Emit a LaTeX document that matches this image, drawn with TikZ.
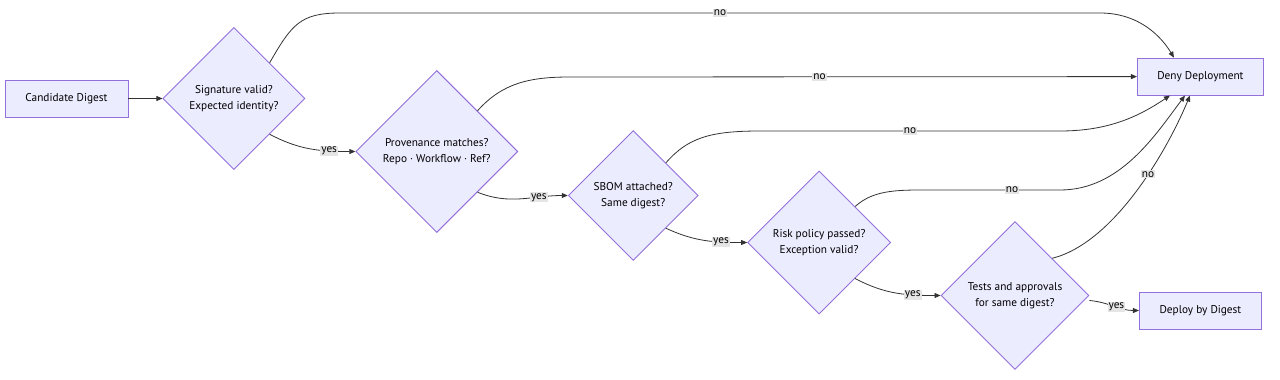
\documentclass[tikz,border=0pt]{standalone}
\usepackage{fontspec}
\setmainfont{PT Sans}
\usepackage{tikz}
\usetikzlibrary{shapes.geometric, arrows.meta, positioning, calc}
\definecolor{mmfill}{HTML}{ECECFF}
\definecolor{mmborde}{HTML}{9370DB}
\definecolor{mmlinea}{HTML}{333333}
\tikzset{
  paso/.style={rectangle, draw=mmborde, fill=mmfill, line width=0.9pt,
    minimum height=37pt, align=center, font=\fontsize{11.3}{16}\selectfont},
  pregunta/.style={diamond, aspect=1, draw=mmborde, fill=mmfill, line width=0.9pt,
    inner sep=0pt, align=center, font=\fontsize{11.3}{16}\selectfont},
  conector/.style={-{Triangle[length=6pt,width=5pt]}, line width=0.8pt, color=mmlinea},
  rotulo/.style={fill=black!10, inner sep=1pt, text=black,
    font=\fontsize{11.3}{13}\selectfont}
}
\begin{document}
\begin{tikzpicture}
  \useasboundingbox (0,0) rectangle (1280pt,-380pt);
  % entrada
  \node[paso, minimum width=123pt] (cand) at (66.5pt,-98.5pt) {Candidate Digest};
  % cadena de comprobaciones
  \node[pregunta, minimum size=142pt, right=34pt of cand] (sig)
    {Signature valid?\\Expected identity?};
  \node[pregunta, minimum size=162pt, right=50pt of sig, yshift=-53pt] (prov)
    {Provenance matches?\\Repo · Workflow · Ref?};
  \node[pregunta, minimum size=130pt, right=49.5pt of prov, yshift=-44pt] (sbom)
    {SBOM attached?\\Same digest?};
  \node[pregunta, minimum size=143pt, right=48.5pt of sbom, yshift=-47pt] (risk)
    {Risk policy passed?\\Exception valid?};
  \node[pregunta, minimum size=148pt, right=49.5pt of risk, yshift=-53pt] (tests)
    {Tests and approvals\\for same digest?};
  % salidas
  \node[paso, minimum width=122pt, right=49.5pt of tests, yshift=-15pt] (deploy)
    {Deploy by Digest};
  \node[paso, minimum width=126pt, above=196pt of deploy] (deny)
    {Deny Deployment};
  % camino del si
  \draw[conector] (cand) -- (sig);
  \draw[conector] (sig.south east) to[out=-28,in=180]
    node[rotulo, pos=0.72]{yes} (prov.west);
  \draw[conector] (prov.south east) to[out=-22,in=180]
    node[rotulo, pos=0.7]{yes} (sbom.west);
  \draw[conector] (sbom.south east) to[out=-25,in=180]
    node[rotulo, pos=0.7]{yes} (risk.west);
  \draw[conector] (risk.south east) to[out=-28,in=180]
    node[rotulo, pos=0.7]{yes} (tests.west);
  \draw[conector] ([yshift=-5pt]tests.east) to[out=-5,in=180]
    node[rotulo, pos=0.55]{yes} (deploy.west);
  % rechazos
  \draw[conector] (sig.north east) .. controls +(22pt,38pt) and +(-40pt,0) .. (340pt,-13pt)
    -- node[rotulo]{no} (1100pt,-13pt)
    .. controls +(40pt,0) and +(-12pt,20pt) .. ([xshift=37pt]deny.north west);
  \draw[conector] (prov.north east) .. controls +(25pt,28pt) and +(-40pt,0) .. (570pt,-77pt)
    -- node[rotulo, pos=0.44]{no} (deny.west);
  \draw[conector] (sbom.north east) .. controls +(22pt,25pt) and +(-50pt,0) .. (760pt,-131pt)
    -- node[rotulo]{no} (1060pt,-131pt)
    .. controls +(50pt,0) and +(-30pt,-20pt) .. ([xshift=33pt]deny.south west);
  \draw[conector] (risk.north east) .. controls +(20pt,18pt) and +(-40pt,0) .. (940pt,-190pt)
    -- node[rotulo, pos=0.6]{no} (1060pt,-190pt)
    .. controls +(60pt,0) and +(-30pt,-40pt) .. ([xshift=48pt]deny.south west);
  \draw[conector] (tests.north east) .. controls +(60pt,15pt) and +(-25pt,-60pt)
    .. node[rotulo, pos=0.6]{no} ([xshift=53pt]deny.south west);
\end{tikzpicture}
\end{document}
